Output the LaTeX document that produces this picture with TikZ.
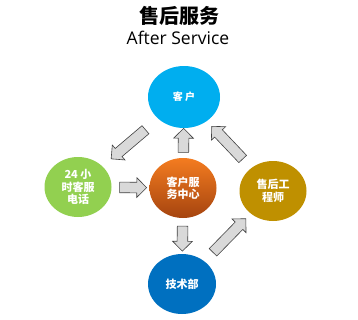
\documentclass[tikz,border=0pt]{standalone}
\usepackage{fontspec}
\setmainfont{Open Sans}
\newfontfamily\cjk{Noto Sans CJK SC}
\usetikzlibrary{shapes.geometric,shapes.arrows}
\definecolor{custblue}{HTML}{00AEEF}
\definecolor{telgreen}{HTML}{92D050}
\definecolor{hubtop}{HTML}{F47C20}
\definecolor{hubbot}{HTML}{A5440F}
\definecolor{enggold}{HTML}{BF9000}
\definecolor{techblue}{HTML}{0070C0}
\definecolor{arrfill}{HTML}{D9D9D9}
\definecolor{arrline}{HTML}{404040}
\tikzset{
  party/.style={ellipse, minimum width=67, minimum height=60, inner sep=0,
    text=white, font=\cjk\bfseries\fontsize{11}{12.5}\selectfont, align=center},
  blockarr/.style={single arrow, fill=arrfill, draw=arrline, line width=0.6pt,
    inner xsep=0, inner ysep=5, single arrow head extend=4.5,
    sloped, allow upside down}
}
\begin{document}
\begin{tikzpicture}[x=1pt, y=-1pt]
  \useasboundingbox (0,0) rectangle (358,319);
  % heading
  \node (title) at (179,16) {\cjk\bfseries\fontsize{20}{22}\selectfont 售后服务};
  \node (subtitle) at (178,38) {\fontsize{17.5}{19}\selectfont After Service};
  % the five parties
  \node[party, fill=custblue, minimum width=72, minimum height=62,
    font=\cjk\bfseries\fontsize{10}{12}\selectfont] (cust) at (184,97) {客\ 户};
  \node[party, fill=telgreen] (tel) at (78,187) {24 小\\时客服\\电话};
  \node[party, top color=hubtop, bottom color=hubbot] (hub) at (183,188) {客户服\\务中心};
  \node[party, fill=enggold] (eng) at (273,191) {售后工\\程师};
  \node[party, fill=techblue, minimum width=68] (tech) at (182,284) {技术部};
  % block arrows between them
  \path (cust) -- node[blockarr, minimum height=45] {} (tel);
  \path (hub) -- node[blockarr, minimum height=24] {} (cust);
  \path (eng) -- node[blockarr, minimum height=45] {} (cust);
  \path (tel) -- node[blockarr, minimum height=27] {} (hub);
  \path (hub) -- node[blockarr, minimum height=25] {} (tech);
  \path (tech) -- node[blockarr, minimum height=47] {} (eng);
\end{tikzpicture}
\end{document}
